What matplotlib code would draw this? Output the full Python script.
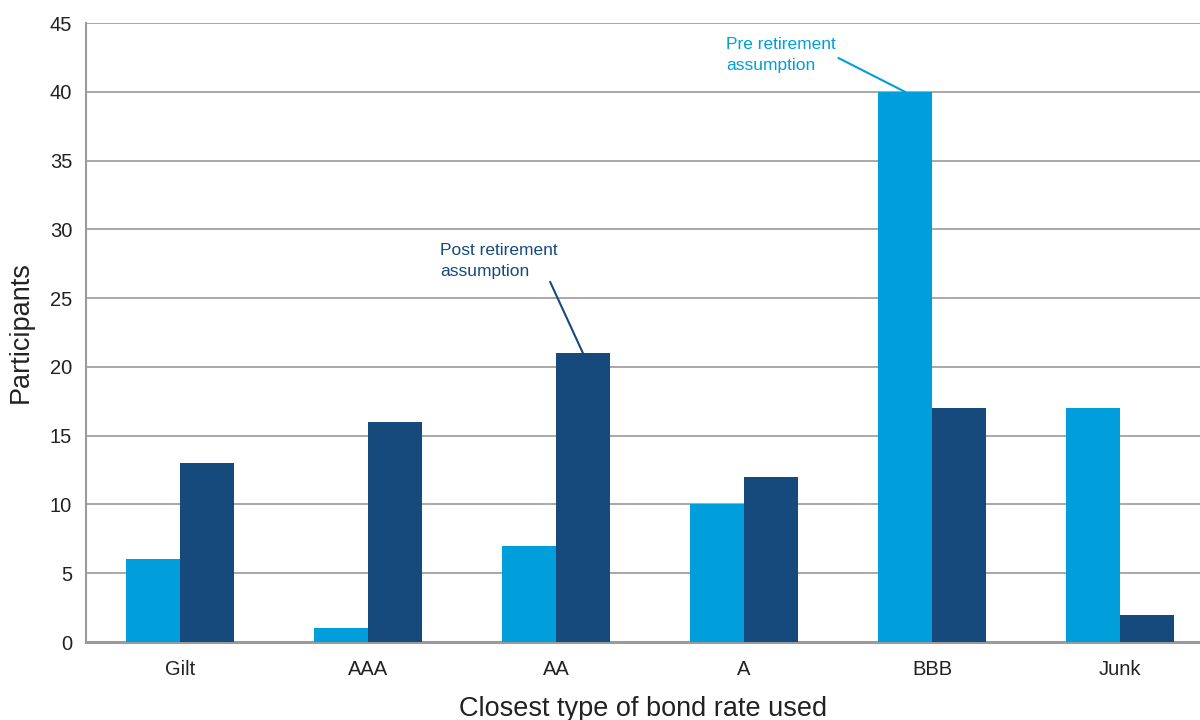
import matplotlib.pyplot as plt
import numpy as np

plt.rcParams['font.family'] = ['Liberation Sans', 'DejaVu Sans']

# bond rating categories and participant counts
categories = ["Gilt", "AAA", "AA", "A", "BBB", "Junk"]
pre_retirement = [6, 1, 7, 10, 40, 17]
post_retirement = [13, 16, 21, 12, 17, 2]

light_blue = "#009edb"
dark_blue = "#174a7c"
grid_grey = "#9a9a9a"

fig = plt.figure(figsize=(12, 7.2), dpi=100)
ax = fig.add_axes([0.0717, 0.1083, 0.9283, 0.8597])

x = np.arange(len(categories))
w = 0.287
ax.bar(x - w / 2, pre_retirement, w, color=light_blue, zorder=3)
ax.bar(x + w / 2, post_retirement, w, color=dark_blue, zorder=3)

ax.set_xlim(-0.5, 5.426)
ax.set_ylim(0, 45)
ax.set_yticks(range(0, 46, 5))
ax.set_xticks(x)
ax.set_xticklabels(categories)
ax.yaxis.grid(True, color=grid_grey, linewidth=1.2, zorder=0)
ax.tick_params(length=0, labelsize=14.5, labelcolor="#222222")
ax.tick_params(axis="x", pad=13)
ax.tick_params(axis="y", pad=10)

for s in ["top", "right"]:
    ax.spines[s].set_visible(False)
ax.spines["left"].set_color(grid_grey)
ax.spines["left"].set_linewidth(1.5)
ax.spines["bottom"].set_color(grid_grey)
ax.spines["bottom"].set_linewidth(2.2)

ax.set_ylabel("Participants", fontsize=19.5, color="#222222", labelpad=11.5)
ax.set_xlabel("Closest type of bond rate used", fontsize=19.5, color="#222222", labelpad=12)

# call-outs pointing at each series
ax.annotate("Post retirement\nassumption", xy=(2 + w / 2, post_retirement[2]),
            xytext=(1.383, 27.7), fontsize=12.5, color=dark_blue,
            ha="left", va="center", linespacing=1.5,
            arrowprops=dict(arrowstyle="-", color=dark_blue, lw=1.5,
                            shrinkA=0, shrinkB=0, relpos=(0.88, 0.32)))
ax.annotate("Pre retirement\nassumption", xy=(4 - w / 2, pre_retirement[4]),
            xytext=(2.904, 42.66), fontsize=12.5, color=light_blue,
            ha="left", va="center", linespacing=1.5,
            arrowprops=dict(arrowstyle="-", color=light_blue, lw=1.5,
                            shrinkA=0, shrinkB=0, relpos=(0.93, 0.57)))

fig.savefig("out.png", dpi=100)
